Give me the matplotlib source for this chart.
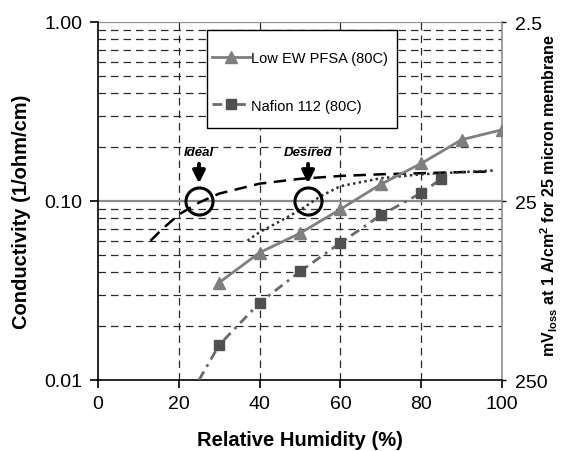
import numpy as np
import matplotlib
matplotlib.use('Agg')
import matplotlib.pyplot as plt
from matplotlib.lines import Line2D
from matplotlib.patches import Rectangle
from matplotlib.ticker import FixedLocator, NullLocator, FixedFormatter

plt.rcParams['font.family'] = ['Liberation Sans', 'DejaVu Sans']
plt.rcParams['mathtext.fontset'] = 'custom'
plt.rcParams['mathtext.rm'] = 'Liberation Sans'
plt.rcParams['mathtext.bf'] = 'Liberation Sans:bold'

# measured data
rh_pfsa = [30, 40, 50, 60, 70, 80, 90, 100]
cond_pfsa = [0.035, 0.0515, 0.066, 0.090, 0.124, 0.162, 0.220, 0.250]

rh_nafion = [30, 40, 50, 60, 70, 80, 85]
cond_nafion = [0.0157, 0.0270, 0.0404, 0.0583, 0.0833, 0.111, 0.133]

# trend line through the nafion points
rh_nafion_fit = [25, 30, 40, 50, 60, 70, 80, 85]
cond_nafion_fit = [0.0100, 0.0157, 0.0270, 0.0404, 0.0583, 0.0833, 0.111, 0.133]

# target curves
rh_ideal = [13, 16, 20, 25, 30, 40, 50, 60, 70, 80, 90, 97]
cond_ideal = [0.060, 0.070, 0.084, 0.098, 0.110, 0.125, 0.133, 0.138, 0.141, 0.143, 0.145, 0.146]

rh_desired = [37, 40, 45, 50, 55, 60, 70, 80, 90, 98]
cond_desired = [0.060, 0.067, 0.077, 0.089, 0.106, 0.121, 0.134, 0.141, 0.145, 0.148]

circle_rh = [25, 52]
circle_cond = [0.1, 0.1]

xticks = [0, 20, 40, 60, 80, 100]
yticks = [0.01, 0.1, 1.0]
ytick_labels = ['0.01', '0.10', '1.00']
mv_ticks = [2.5, 25, 250]
mv_labels = ['2.5', '25', '250']

fig = plt.figure(figsize=(5.68, 4.52), dpi=100)
ax = fig.add_axes([98 / 568, 1 - 381 / 452, 404 / 568, 358 / 452])

ax.set_yscale('log')
ax.set_xlim(0, 100)
ax.set_ylim(0.01, 1.0)

# grid
minor_vals = [m * d for d in (0.01, 0.1) for m in range(2, 10)]
for v in minor_vals:
    ax.axhline(v, color='#2a2a2a', lw=0.9, ls=(0, (6, 4)), zorder=1)
for x in xticks[1:-1]:
    ax.axvline(x, color='#2a2a2a', lw=0.9, ls=(0, (6, 4)), zorder=1)
ax.axhline(0.1, color='#8c8c8c', lw=1.6, zorder=1)
ax.axhline(1.0, color='#8c8c8c', lw=1.6, zorder=1)

# curves
ax.plot(rh_ideal, cond_ideal, color='black', lw=1.8, ls=(0, (5, 3)), zorder=3)
ax.plot(rh_desired, cond_desired, color='#333333', lw=1.8, ls=(0, (1, 1.3)), zorder=3)
ax.plot(rh_nafion_fit, cond_nafion_fit, color='#6a6a6a', lw=2, ls=(0, (3.5, 2, 1, 2)), zorder=3)
ax.plot(rh_nafion, cond_nafion, 's', color='#505050', ms=7, zorder=4)
ax.plot(rh_pfsa, cond_pfsa, '-^', color='#7f7f7f', lw=2, ms=8, zorder=4)

ax.plot(circle_rh, circle_cond, 'o', mfc='none', mec='black', mew=2.2, ms=19.5, zorder=5)

# arrows and labels
for x, label in [(25, 'Ideal'), (52, 'Desired')]:
    ax.annotate('', xy=(x, 0.121), xytext=(x, 0.167),
                arrowprops=dict(arrowstyle='-|>', color='black', lw=2.8, mutation_scale=18))
    ax.text(x, 0.174, label, ha='center', va='bottom', fontsize=9.5,
            fontweight='bold', fontstyle='italic')

# spines & ticks
for s in ['left', 'bottom']:
    ax.spines[s].set_color('black')
    ax.spines[s].set_linewidth(1.2)
ax.spines['top'].set_visible(False)
ax.spines['right'].set_color('#8c8c8c')
ax.spines['right'].set_linewidth(1.2)

ax.xaxis.set_major_locator(FixedLocator(xticks))
ax.yaxis.set_major_locator(FixedLocator(yticks))
ax.yaxis.set_major_formatter(FixedFormatter(ytick_labels))
ax.yaxis.set_minor_locator(NullLocator())
ax.tick_params(axis='both', which='major', direction='out', length=6, width=1.2,
               labelsize=14, pad=5)

fig.text(300 / 568, 1 - 441 / 452, 'Relative Humidity (%)', fontsize=14.5,
         fontweight='bold', ha='center', va='center')
fig.text(22 / 568, 1 - 212 / 452, 'Conductivity (1/ohm/cm)', fontsize=14.5,
         fontweight='bold', ha='center', va='center', rotation=90)

# right axis: voltage loss, 2.5/conductivity
ax2 = ax.twinx()
ax2.set_yscale('log')
ax2.set_ylim(250, 2.5)
ax2.yaxis.set_major_locator(FixedLocator(mv_ticks))
ax2.yaxis.set_major_formatter(FixedFormatter(mv_labels))
ax2.yaxis.set_minor_locator(NullLocator())
ax2.tick_params(axis='y', which='major', direction='out', length=3, width=1,
                labelsize=14, pad=6)
for s in ax2.spines.values():
    s.set_visible(False)
fig.text(549 / 568, 1 - 196 / 452,
         r'$\mathbf{mV_{loss}}$ at 1 A/cm$^{\mathbf{2}}$ for 25 micron membrane',
         fontsize=11.5, fontweight='bold', ha='center', va='center', rotation=90)

# legend: frame drawn separately so the vertical padding can be larger
ax.add_patch(Rectangle(((207 - 98) / 404, 1 - (129 - 23) / 358), 190 / 404, 98 / 358,
                       transform=ax.transAxes, facecolor='white', edgecolor='black',
                       lw=1.0, zorder=6))
h1 = Line2D([], [], color='#7f7f7f', lw=2, marker='^', ms=8)
h2 = Line2D([], [], color='#6a6a6a', lw=2, ls=(0, (3.5, 2, 1, 2)),
            marker='s', mfc='#505050', mec='#505050', ms=7)
leg = ax.legend([h1, h2], ['Low EW PFSA (80C)', 'Nafion 112 (80C)'],
                loc='upper left', bbox_to_anchor=((212 - 98) / 404, 1 - (52 - 23) / 358),
                fontsize=10.5, labelspacing=2.3, handlelength=2.6, handletextpad=0.05,
                borderpad=0, borderaxespad=0, frameon=False)
leg.set_zorder(7)

fig.savefig('out.png', dpi=100)
